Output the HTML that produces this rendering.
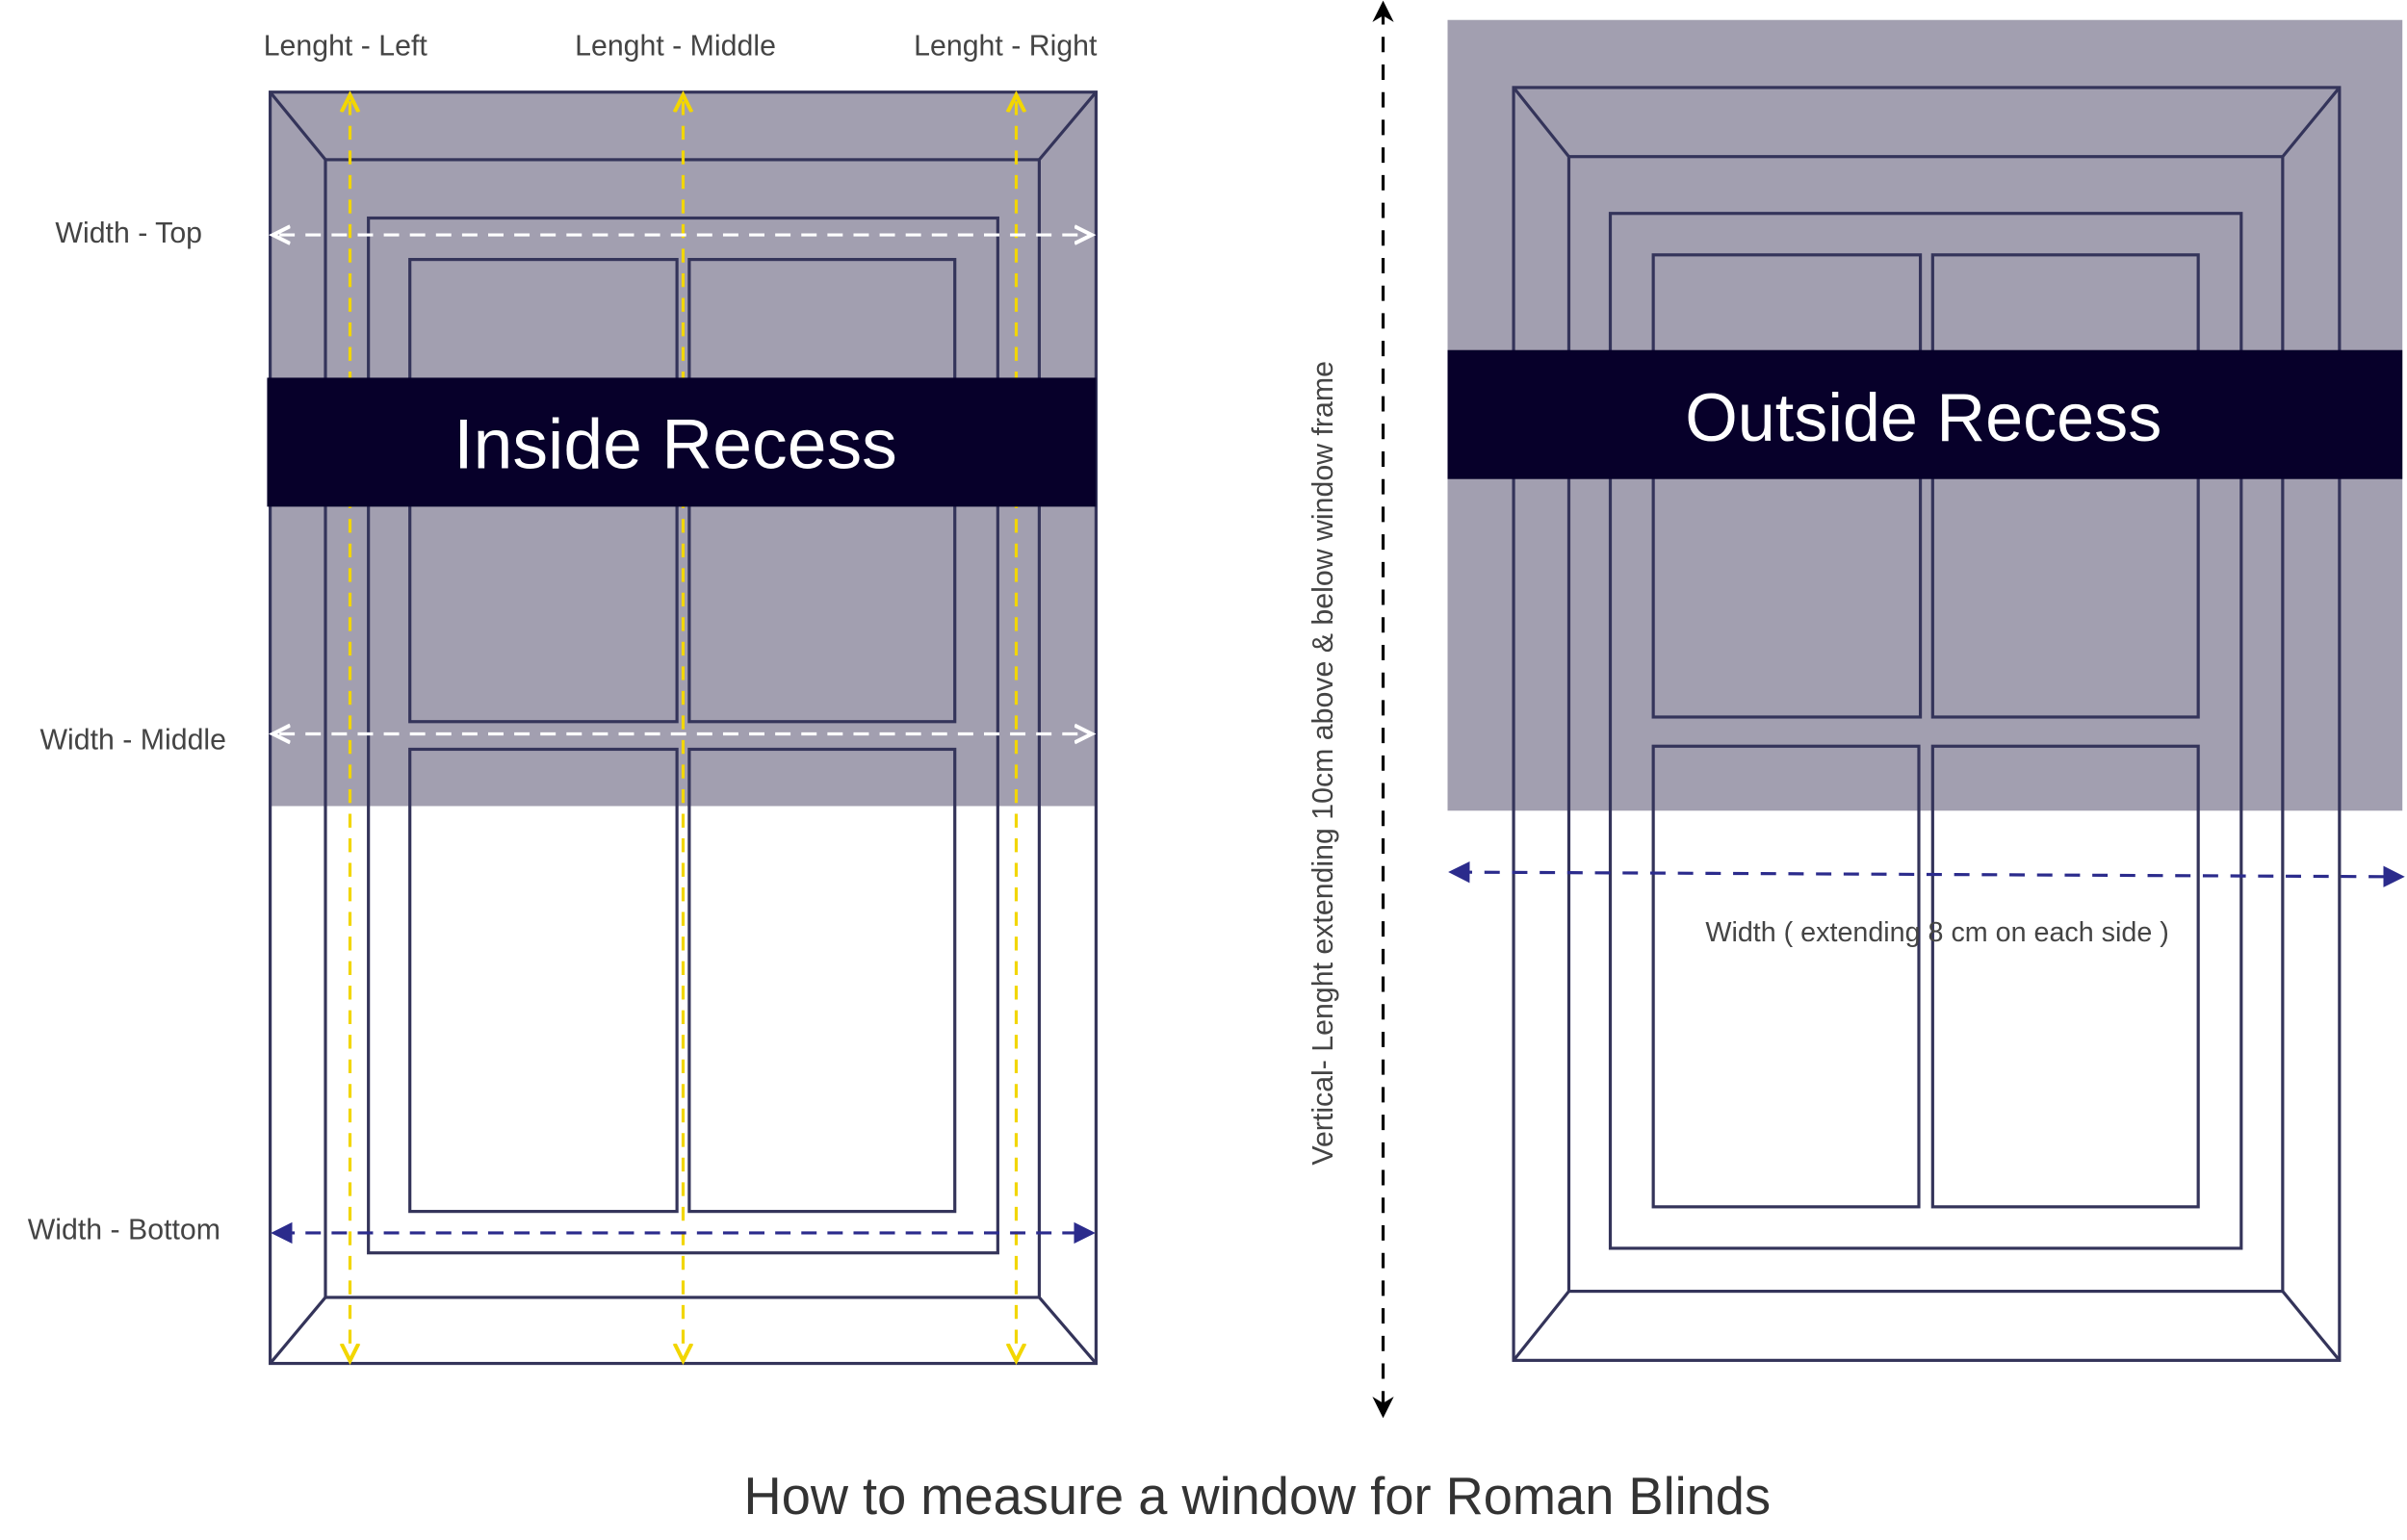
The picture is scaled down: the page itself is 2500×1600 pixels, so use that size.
<!DOCTYPE html>
<html><head><meta charset="utf-8"><style>
html,body{margin:0;padding:0;background:#fff;}
svg{display:block;}
text{font-family:"Liberation Sans",sans-serif;}
</style></head><body>
<svg width="2500" height="1600" viewBox="0 0 1568 1003" preserveAspectRatio="none" xmlns="http://www.w3.org/2000/svg">
<defs>
<marker id="ay" viewBox="0 0 10 10" refX="5" refY="5" markerWidth="7" markerHeight="7" orient="auto-start-reverse"><path d="M0,1 L8,5 L0,9" fill="none" stroke="#f2d600" stroke-width="1.8"/></marker>
<marker id="aw" viewBox="0 0 10 10" refX="5" refY="5" markerWidth="7" markerHeight="7" orient="auto-start-reverse"><path d="M0,1 L8,5 L0,9" fill="none" stroke="#fff" stroke-width="1.8"/></marker>
<marker id="ab" viewBox="0 0 10 10" refX="6" refY="5" markerWidth="7" markerHeight="7" orient="auto-start-reverse"><path d="M0,0 L10,5 L0,10 Z" fill="#2b2b8c"/></marker>
<marker id="ak" viewBox="0 0 10 10" refX="6" refY="5" markerWidth="7" markerHeight="7" orient="auto-start-reverse"><path d="M0,0 L10,5 L0,10 L3,5 Z" fill="#000"/></marker>
</defs>
<rect width="1568" height="1003" fill="#fff"/>
<!-- LEFT -->
<rect x="176" y="60" width="538" height="465" fill="#a29fb0"/>
<g fill="none" stroke="#34345a" stroke-width="2">
<rect x="176" y="60" width="538" height="828"/>
<rect x="212" y="104" width="465" height="741"/>
<rect x="240" y="142" width="410" height="674"/>
<rect x="267" y="169" width="174" height="301"/>
<rect x="449" y="169" width="173" height="301"/>
<rect x="267" y="488" width="174" height="301"/>
<rect x="449" y="488" width="173" height="301"/>
<path d="M176,60 L212,104 M714,60 L677,104 M176,888 L212,845 M714,888 L677,845"/>
</g>
<g stroke="#f2d600" stroke-width="2" stroke-dasharray="9,7" fill="none">
<line x1="228" y1="66" x2="228" y2="882" marker-start="url(#ay)" marker-end="url(#ay)"/>
<line x1="445" y1="66" x2="445" y2="882" marker-start="url(#ay)" marker-end="url(#ay)"/>
<line x1="662" y1="66" x2="662" y2="882" marker-start="url(#ay)" marker-end="url(#ay)"/>
</g>
<g stroke="#fff" stroke-width="2" stroke-dasharray="10,7" fill="none">
<line x1="182" y1="153" x2="707" y2="153" marker-start="url(#aw)" marker-end="url(#aw)"/>
<line x1="182" y1="478" x2="707" y2="478" marker-start="url(#aw)" marker-end="url(#aw)"/>
</g>
<line x1="182" y1="803" x2="708" y2="803" stroke="#2b2b8c" stroke-width="2" stroke-dasharray="10,7" marker-start="url(#ab)" marker-end="url(#ab)"/>
<rect x="174" y="246" width="540" height="84" fill="#07002a"/>
<text x="440" y="305" text-anchor="middle" font-size="46" fill="#fff">Inside Recess</text>
<g font-size="19" fill="#444">
<text x="225" y="36" text-anchor="middle">Lenght - Left</text>
<text x="440" y="36" text-anchor="middle">Lenght - Middle</text>
<text x="655" y="36" text-anchor="middle">Lenght - Right</text>
<text x="36" y="158">Width - Top</text>
<text x="26" y="488">Width - Middle</text>
<text x="18" y="807">Width - Bottom</text>
</g>
<!-- MIDDLE -->
<line x1="901" y1="6" x2="901" y2="918" stroke="#000" stroke-width="2" stroke-dasharray="10,8" marker-start="url(#ak)" marker-end="url(#ak)"/>
<text transform="translate(868,497) rotate(-90)" text-anchor="middle" font-size="19" fill="#444">Vertical- Lenght extending  10cm above &amp;  below window frame</text>
<!-- RIGHT -->
<rect x="943" y="13" width="622" height="515" fill="#a29fb0"/>
<g fill="none" stroke="#34345a" stroke-width="2">
<rect x="986" y="57" width="538" height="829"/>
<rect x="1022" y="102" width="465" height="739"/>
<rect x="1049" y="139" width="411" height="674"/>
<rect x="1077" y="166" width="174" height="301"/>
<rect x="1259" y="166" width="173" height="301"/>
<rect x="1077" y="486" width="173" height="300"/>
<rect x="1259" y="486" width="173" height="300"/>
<path d="M986,57 L1022,102 M1524,57 L1487,102 M986,886 L1022,841 M1524,886 L1487,841"/>
</g>
<rect x="943" y="228" width="622" height="84" fill="#07002a"/>
<text x="1253" y="287" text-anchor="middle" font-size="44" fill="#fff">Outside Recess</text>
<line x1="949" y1="568" x2="1561" y2="571" stroke="#2b2b8c" stroke-width="2" stroke-dasharray="10,8" marker-start="url(#ab)" marker-end="url(#ab)"/>
<text x="1262" y="613" text-anchor="middle" font-size="18" fill="#444">Width ( extending 8 cm on each side )</text>
<text x="819" y="986" text-anchor="middle" font-size="34" fill="#333">How to measure a window for Roman Blinds</text>
</svg>
</body></html>
